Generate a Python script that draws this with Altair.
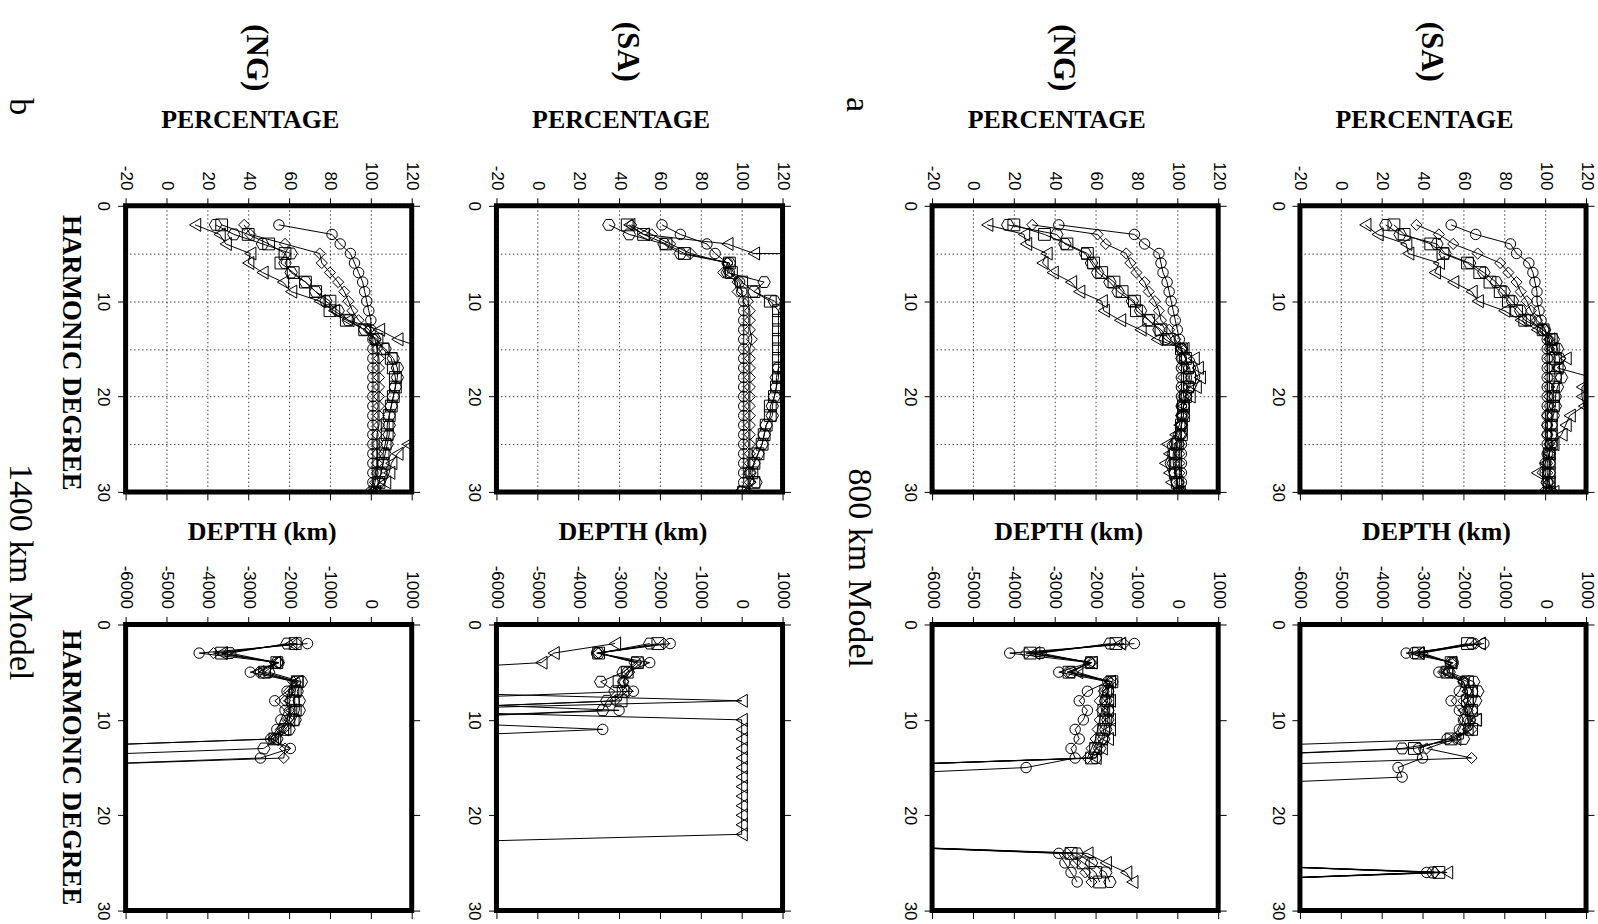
import altair as alt
import pandas as pd

# ------------------------------------------------------------------ data
DEGREES = list(range(2, 31))                      # harmonic degree of each reading
SERIES = ["circle", "diamond", "square", "hexagon", "triangle"]
HEXAGON = "M-1,0L-0.5,-0.87L0.5,-0.87L1,0L0.5,0.87L-0.5,0.87Z"
SHAPES = ["circle", "diamond", "square", HEXAGON, "triangle-left"]
SIZES = [110, 170, 110, 210, 120]

HI = 200      # percentage reading beyond the right frame
HI2 = 1000    # percentage reading far beyond the right frame
LO = -9000    # depth reading beyond the left frame

# ---- 800 km model, SA, percentage
SA800_PCT = {
    "circle":   [54, 66, 83, 86, 92, 94, 95, 96, 96, 97, 98, 100, 101, 101, 101, 101, 101, 101, 101, 101, 101, 101, 101, 101, 101, 100, 100, 101, 100],
    "diamond":  [37, 48, 55, 67, 78, 82, 86, 88, 91, 93, 96, 100, 102, 102, 102, 102, 102, 102, 102, 102, 101, 101, 101, 102, 102, 101, 101, 102, 102],
    "square":   [26, 31, 44, 50, 62, 68, 73, 78, 82, 86, 90, 99, 103, 104, 105, 104, 105, 104, 104, 104, 103, 103, 103, 103, 102, 102, 102, 102, 102],
    "hexagon":  [22, 29, 47, 51, 63, 70, 76, 80, 84, 88, 92, 99, 104, 106, 107, 107, 108, 106, 105, 105, 104, 103, 103, 103, 102, 102, 102, 101, 103],
    "triangle": [12, 18, 32, 33, 48, 46, 55, 64, 67, 80, 88, 96, 102, 103, 110, 106, 123, 118, 118, 119, 112, 110, 108, 104, 102, 100, 96, 102, 104],
}
# ---- 800 km model, SA, depth
SA800_DEP = {
    "circle":   [-1500, -3400, -2250, -2600, -2000, -2100, -2300, -2100, -2000, -2100, -2400, -3100, -3000, -3600, -3500, LO, LO, LO, LO, LO, LO, LO, LO, LO, -2900, LO],
    "diamond":  [-1700, -3000, -2300, -2500, -2000, -1900, -2000, -1900, -1900, -1800, -2200, -2900, -1800, LO, LO, LO, LO, LO, LO, LO, LO, LO, LO, LO, -2700, LO],
    "square":   [-1900, -3100, -2300, -2400, -1900, -1800, -1900, -1800, -1700, -1800, -2300, -3200, LO, LO, LO, LO, LO, LO, LO, LO, LO, LO, LO, LO, -2600, LO],
    "hexagon":  [-1800, -3200, -2300, -2350, -1750, -1650, -1700, -1800, -1950, -2000, -2000, -3500, LO, LO, LO, LO, LO, LO, LO, LO, LO, LO, LO, LO, -2750, LO],
    "triangle": [-1600, -3100, -2300, -2400, -2000, -1900, -1900, -2000, -1700, -1900, -2200, LO, LO, LO, LO, LO, LO, LO, LO, LO, LO, LO, LO, LO, -2400, LO],
}
# ---- 800 km model, NG, percentage
NG800_PCT = {
    "circle":   [42, 79, 84, 91, 92, 93, 95, 96, 97, 98, 99, 100, 101, 102, 102, 102, 102, 102, 102, 102, 102, 102, 102, 102, 102, 102, 102, 102, 102],
    "diamond":  [29, 61, 65, 75, 77, 80, 84, 86, 89, 91, 92, 96, 99, 102, 102, 103, 103, 103, 103, 102, 102, 102, 102, 101, 101, 101, 101, 101, 101],
    "square":   [20, 35, 46, 56, 59, 63, 69, 73, 79, 80, 86, 92, 96, 102, 104, 105, 106, 105, 104, 103, 103, 102, 102, 100, 99, 99, 99, 100, 101],
    "hexagon":  [17, 41, 45, 55, 58, 61, 67, 71, 78, 82, 86, 91, 94, 102, 104, 106, 107, 106, 104, 103, 103, 102, 101, 99, 98, 98, 99, 100, 101],
    "triangle": [7, 25, 26, 36, 34, 39, 48, 52, 63, 64, 72, 82, 90, 103, 108, 110, 111, 109, 106, 103, 102, 101, 99, 95, 96, 94, 96, 97, 99],
}
# ---- 800 km model, NG, depth
NG800_DEP = {
    "circle":   [-1050, -4100, -2150, -2900, -1700, -2200, -2400, -2200, -2300, -2500, -2400, -2600, -2500, -3700, LO, LO, LO, LO, LO, LO, LO, LO, -2900, -2750, -2600, -2450],
    "diamond":  [-1300, -3700, -2100, -2700, -1650, -1800, -1900, -1850, -1900, -1950, -2000, -2100, -2200, LO, LO, LO, LO, LO, LO, LO, LO, LO, -2700, -2500, -2250, -2100],
    "square":   [-1500, -3600, -2100, -2650, -1600, -1750, -1700, -1800, -1750, -1800, -1850, -2000, -2100, LO, LO, LO, LO, LO, LO, LO, LO, LO, -2600, -2300, -2000, -1900],
    "hexagon":  [-1650, -3350, -2150, -2600, -1600, -1700, -1750, -1700, -1700, -1750, -1800, -1900, -2000, LO, LO, LO, LO, LO, LO, LO, LO, LO, -2450, -2100, -1750, -1650],
    "triangle": [-1400, -3500, -2100, -2450, -1650, -1700, -1650, -1700, -1650, -1650, -1700, -1850, -2000, LO, LO, LO, LO, LO, LO, LO, LO, LO, -2200, -1750, -1250, -1100],
}
# ---- 1400 km model, SA, percentage
SA1400_PCT = {
    "circle":   [61, 70, 83, 87, 93, 94, 99, 100, 101, 101, 101, 101, 101, 101, 101, 101, 101, 101, 101, 101, 101, 101, 101, 101, 101, 101, 101, 101, 100],
    "diamond":  [46, 56, 65, 75, 93, 91, 98, 98, 103, 104, 104, 104, 105, 104, 104, 104, 104, 104, 104, 104, 104, 104, 104, 104, 104, 104, 104, 104, 103],
    "square":   [44, 52, 63, 72, 94, 95, 100, 106, 114, 118, 118, 118, 118, 118, 118, 118, 118, 117, 116, 114, 114, 112, 111, 110, 108, 106, 105, 106, 101],
    "hexagon":  [35, 45, 62, 70, 94, 93, 111, 106, 116, 121, 125, 125, 125, 125, 125, 118, 117, 117, 116, 115, 115, 112, 111, 110, 108, 106, 104, 107, 100],
    "triangle": [45, 52, 93, 106, HI2],
}
# ---- 1400 km model, SA, depth
SA1400_DEP = {
    "circle":   [-1750, -3550, -2250, -2800, -2900, -2650, LO, -3000, LO, -3400, LO],
    "diamond":  [-1900, -3500, -2450, -2750, -2900, -2800, -3100, LO],
    "square":   [-2050, -3500, -2550, -2800, -3000, -2900, -2950, LO],
    "hexagon":  [-2250, -3500, -2600, -2900, -3450, -3100, -3300, -3400, LO],
    "triangle": [-3100, -4600, -4900, LO, LO, LO, 0, LO, 0, 0, 0, 0, 0, 0, 0, 0, 0, 0, 0, 0, 0, LO],
}
# ---- 1400 km model, NG, percentage
NG1400_PCT = {
    "circle":   [55, 81, 85, 90, 92, 94, 96, 97, 98, 99, 100, 100, 101, 101, 101, 101, 101, 101, 101, 101, 101, 101, 101, 101, 101, 101, 101, 101, 100],
    "diamond":  [38, 41, 58, 75, 76, 80, 84, 87, 89, 91, 94, 99, 102, 103, 104, 104, 104, 104, 104, 104, 104, 104, 103, 103, 103, 103, 103, 102, 101],
    "square":   [27, 40, 50, 58, 56, 62, 68, 73, 80, 80, 88, 97, 103, 106, 110, 111, 112, 112, 111, 110, 109, 108, 108, 107, 106, 106, 105, 104, 102],
    "hexagon":  [24, 33, 47, 61, 58, 61, 68, 73, 78, 84, 89, 97, 102, 107, 111, 113, 113, 112, 111, 110, 109, 109, 109, 108, 107, 106, 105, 104, 102],
    "triangle": [14, 26, 29, 41, 40, 47, 57, 61, 75, 82, 89, 104, 113, 127, HI, HI, HI, HI, HI, HI, HI, HI, 130, 118, 113, 110, 109, 107, 102],
}
# ---- 1400 km model, NG, depth
NG1400_DEP = {
    "circle":   [-1550, -4200, -2250, -2950, -1850, -2050, -2350, -2100, -2200, -2300, -2450, -1970, -2700, LO],
    "diamond":  [-1800, -3850, -2250, -2750, -1900, -2000, -2100, -2000, -2050, -2200, -2400, -2100, -2130, LO],
    "square":   [-1850, -3650, -2300, -2600, -1800, -1850, -1900, -1850, -1900, -2100, -2350, LO],
    "hexagon":  [-2050, -3450, -2300, -2500, -1700, -1800, -1750, -1750, -1850, -2000, -2300, -2620, LO],
    "triangle": [-1950, -3650, -2350, -2750, -1800, -1900, -2000, -1950, -2000, -2150, -2400, LO],
}

PCT_TICKS = [-20, 0, 20, 40, 60, 80, 100, 120]
DEPTH_TICKS = [-6000, -5000, -4000, -3000, -2000, -1000, 0, 1000]
DEGREE_TICKS = [0, 10, 20, 30]
DEGREE_GRID = [0, 5, 10, 15, 20, 25, 30]

# ------------------------------------------------------------------ layout
SERIF = "Liberation Serif"
SANS = "Liberation Sans"
W = 287
H = 287
COL_W = [120, W, 85, W, 150, W, 82, W]
TOP_H = 72
ROW_GAP = 133
PCT_TOP = TOP_H + ROW_GAP
DEP_TOP = PCT_TOP + H + ROW_GAP


def col_left(i):
    return sum(COL_W[:i])


LEFT = {"NG1400": col_left(1), "SA1400": col_left(3), "NG800": col_left(5), "SA800": col_left(7)}


def txt(text, x, y, size, weight="bold", angle=90, baseline="middle"):
    return {"text": text, "x": x, "y": y, "size": size, "weight": weight,
            "angle": angle, "baseline": baseline}


def long_table(values):
    rows = []
    for s in SERIES:
        vals = (list(values[s]) + [None] * len(DEGREES))[:len(DEGREES)]
        for d, v in zip(DEGREES, vals):
            if v is not None:
                rows.append({"deg": d, "val": v, "series": s})
    return pd.DataFrame(rows)


def panel(values, kind, left, top, texts):
    df = long_table(values)
    pct = kind == "pct"
    xticks = PCT_TICKS if pct else DEPTH_TICKS
    xs = alt.Scale(domain=[xticks[0], xticks[-1]], nice=False, zero=False)
    ys = alt.Scale(domain=[0, 30], nice=False, zero=False, reverse=True)

    def tp(key, ox, oy):
        t = texts.get(key)
        if t is None:
            return {"title": None}
        return dict(title=t["text"], titleX=t["x"] - ox, titleY=t["y"] - oy,
                    titleAngle=t["angle"], titleAlign="center",
                    titleBaseline=t["baseline"], titleFont=SERIF,
                    titleFontSize=t["size"], titleFontWeight=t["weight"],
                    titleColor="black")

    style = dict(domain=False, ticks=True, tickSize=8, tickWidth=1,
                 tickColor="black", labelColor="black", labelFont=SANS,
                 labelFontSize=17, labelFlush=False, labelOverlap=False)
    grid_style = dict(gridColor="#111111", gridOpacity=0.8, gridDash=[1.5, 2.5], gridWidth=1)

    top_axis = alt.Axis(orient="top", values=xticks, labelAngle=90,
                        labelAlign="right", labelBaseline="middle", labelPadding=8,
                        labelExpr="'' + datum.value", grid=pct,
                        **grid_style, **style, **tp("top", left, top))
    if pct:
        left_axis = alt.Axis(orient="left", values=DEGREE_GRID,
                             labelExpr="datum.value % 10 === 0 ? '' + datum.value : ''",
                             tickOpacity={"condition": {"test": "datum.value % 10 === 0", "value": 1}, "value": 0},
                             grid=True, labelAngle=90, labelAlign="center",
                             labelBaseline="top", labelPadding=7,
                             **grid_style, **style, **tp("left", left, top))
    else:
        left_axis = alt.Axis(orient="left", values=DEGREE_TICKS,
                             labelExpr="'' + datum.value", grid=False,
                             labelAngle=90, labelAlign="center",
                             labelBaseline="top", labelPadding=7,
                             **style, **tp("left", left, top))
    bottom_axis = alt.Axis(orient="bottom", values=xticks, labels=False, grid=False,
                           **style, **tp("bottom", left, top + H))
    right_axis = alt.Axis(orient="right", values=DEGREE_TICKS, labels=False, grid=False,
                          **style, **tp("right", left + W, top))

    base = alt.Chart(df)
    lines = base.mark_line(color="black", strokeWidth=1, clip=True).encode(
        x=alt.X("val:Q", scale=xs, axis=top_axis),
        y=alt.Y("deg:Q", scale=ys, axis=left_axis),
        detail="series:N",
        order=alt.Order("deg:Q"),
    )
    points = base.mark_point(filled=False, color="black", strokeWidth=1, opacity=1, clip=True).encode(
        x=alt.X("val:Q", scale=xs, axis=None),
        y=alt.Y("deg:Q", scale=ys, axis=None),
        shape=alt.Shape("series:N", scale=alt.Scale(domain=SERIES, range=SHAPES), legend=None),
        size=alt.Size("series:N", scale=alt.Scale(domain=SERIES, range=SIZES), legend=None),
    )
    frame_axes = base.mark_point(opacity=0, clip=True).encode(
        x=alt.X("val:Q", scale=xs, axis=bottom_axis),
        y=alt.Y("deg:Q", scale=ys, axis=right_axis),
    )
    return alt.layer(lines, points, frame_axes).resolve_axis(
        x="independent", y="independent"
    ).properties(width=W, height=H,
                 view=alt.ViewBackground(stroke="black", strokeWidth=5))


SPACER_DF = pd.DataFrame({"z": [0]})


def spacer(w, h):
    return alt.Chart(SPACER_DF).mark_point(opacity=0, size=1).encode(
        x=alt.value(w / 2), y=alt.value(h / 2)
    ).properties(width=w, height=h)


def pct_texts(name, col_title, title_y, extra):
    l = LEFT[name]
    t = {"top": txt("PERCENTAGE", l + W / 2 - 19, 126, 26, angle=0, baseline="alphabetic"),
         "bottom": txt(col_title, l + W / 2 - 13, title_y, 31)}
    t.update(extra)
    return t


def dep_texts(name, extra):
    l = LEFT[name]
    t = {"top": txt("DEPTH (km)", l + W / 2 - 7, 540, 26, angle=0, baseline="alphabetic")}
    t.update(extra)
    return t


ng1400_pct = panel(NG1400_PCT, "pct", LEFT["NG1400"], PCT_TOP, pct_texts("NG1400", "(NG)", 56, {
    "left": txt("HARMONIC DEGREE", 57, 352, 27, baseline="alphabetic"),
    "right": txt("b", 4, 105, 34, weight="normal", baseline="alphabetic")}))
sa1400_pct = panel(SA1400_PCT, "pct", LEFT["SA1400"], PCT_TOP, pct_texts("SA1400", "(SA)", 50, {}))
ng800_pct = panel(NG800_PCT, "pct", LEFT["NG800"], PCT_TOP, pct_texts("NG800", "(NG)", 56, {
    "left": txt("a", 843, 103, 34, weight="normal", baseline="alphabetic")}))
sa800_pct = panel(SA800_PCT, "pct", LEFT["SA800"], PCT_TOP, pct_texts("SA800", "(SA)", 50, {}))

ng1400_dep = panel(NG1400_DEP, "depth", LEFT["NG1400"], DEP_TOP, dep_texts("NG1400", {
    "left": txt("HARMONIC DEGREE", 57, 768, 27, baseline="alphabetic"),
    "right": txt("1400 km Model", 4, 572, 34, weight="normal", baseline="alphabetic")}))
sa1400_dep = panel(SA1400_DEP, "depth", LEFT["SA1400"], DEP_TOP, dep_texts("SA1400", {}))
ng800_dep = panel(NG800_DEP, "depth", LEFT["NG800"], DEP_TOP, dep_texts("NG800", {
    "left": txt("800 km Model", 845, 568, 34, weight="normal", baseline="alphabetic")}))
sa800_dep = panel(SA800_DEP, "depth", LEFT["SA800"], DEP_TOP, dep_texts("SA800", {}))

cells = [spacer(w, TOP_H) for w in COL_W]
cells += [spacer(COL_W[0], H), ng1400_pct, spacer(COL_W[2], H), sa1400_pct,
          spacer(COL_W[4], H), ng800_pct, spacer(COL_W[6], H), sa800_pct]
cells += [spacer(COL_W[0], H), ng1400_dep, spacer(COL_W[2], H), sa1400_dep,
          spacer(COL_W[4], H), ng800_dep, spacer(COL_W[6], H), sa800_dep]

chart = alt.concat(
    *cells, columns=8, spacing={"row": ROW_GAP, "column": 0}, bounds="flush"
).properties(padding=0, background="white").configure_view(stroke="transparent", strokeWidth=0)

chart.save("out.html", embed_options={"renderer": "svg", "actions": False})
